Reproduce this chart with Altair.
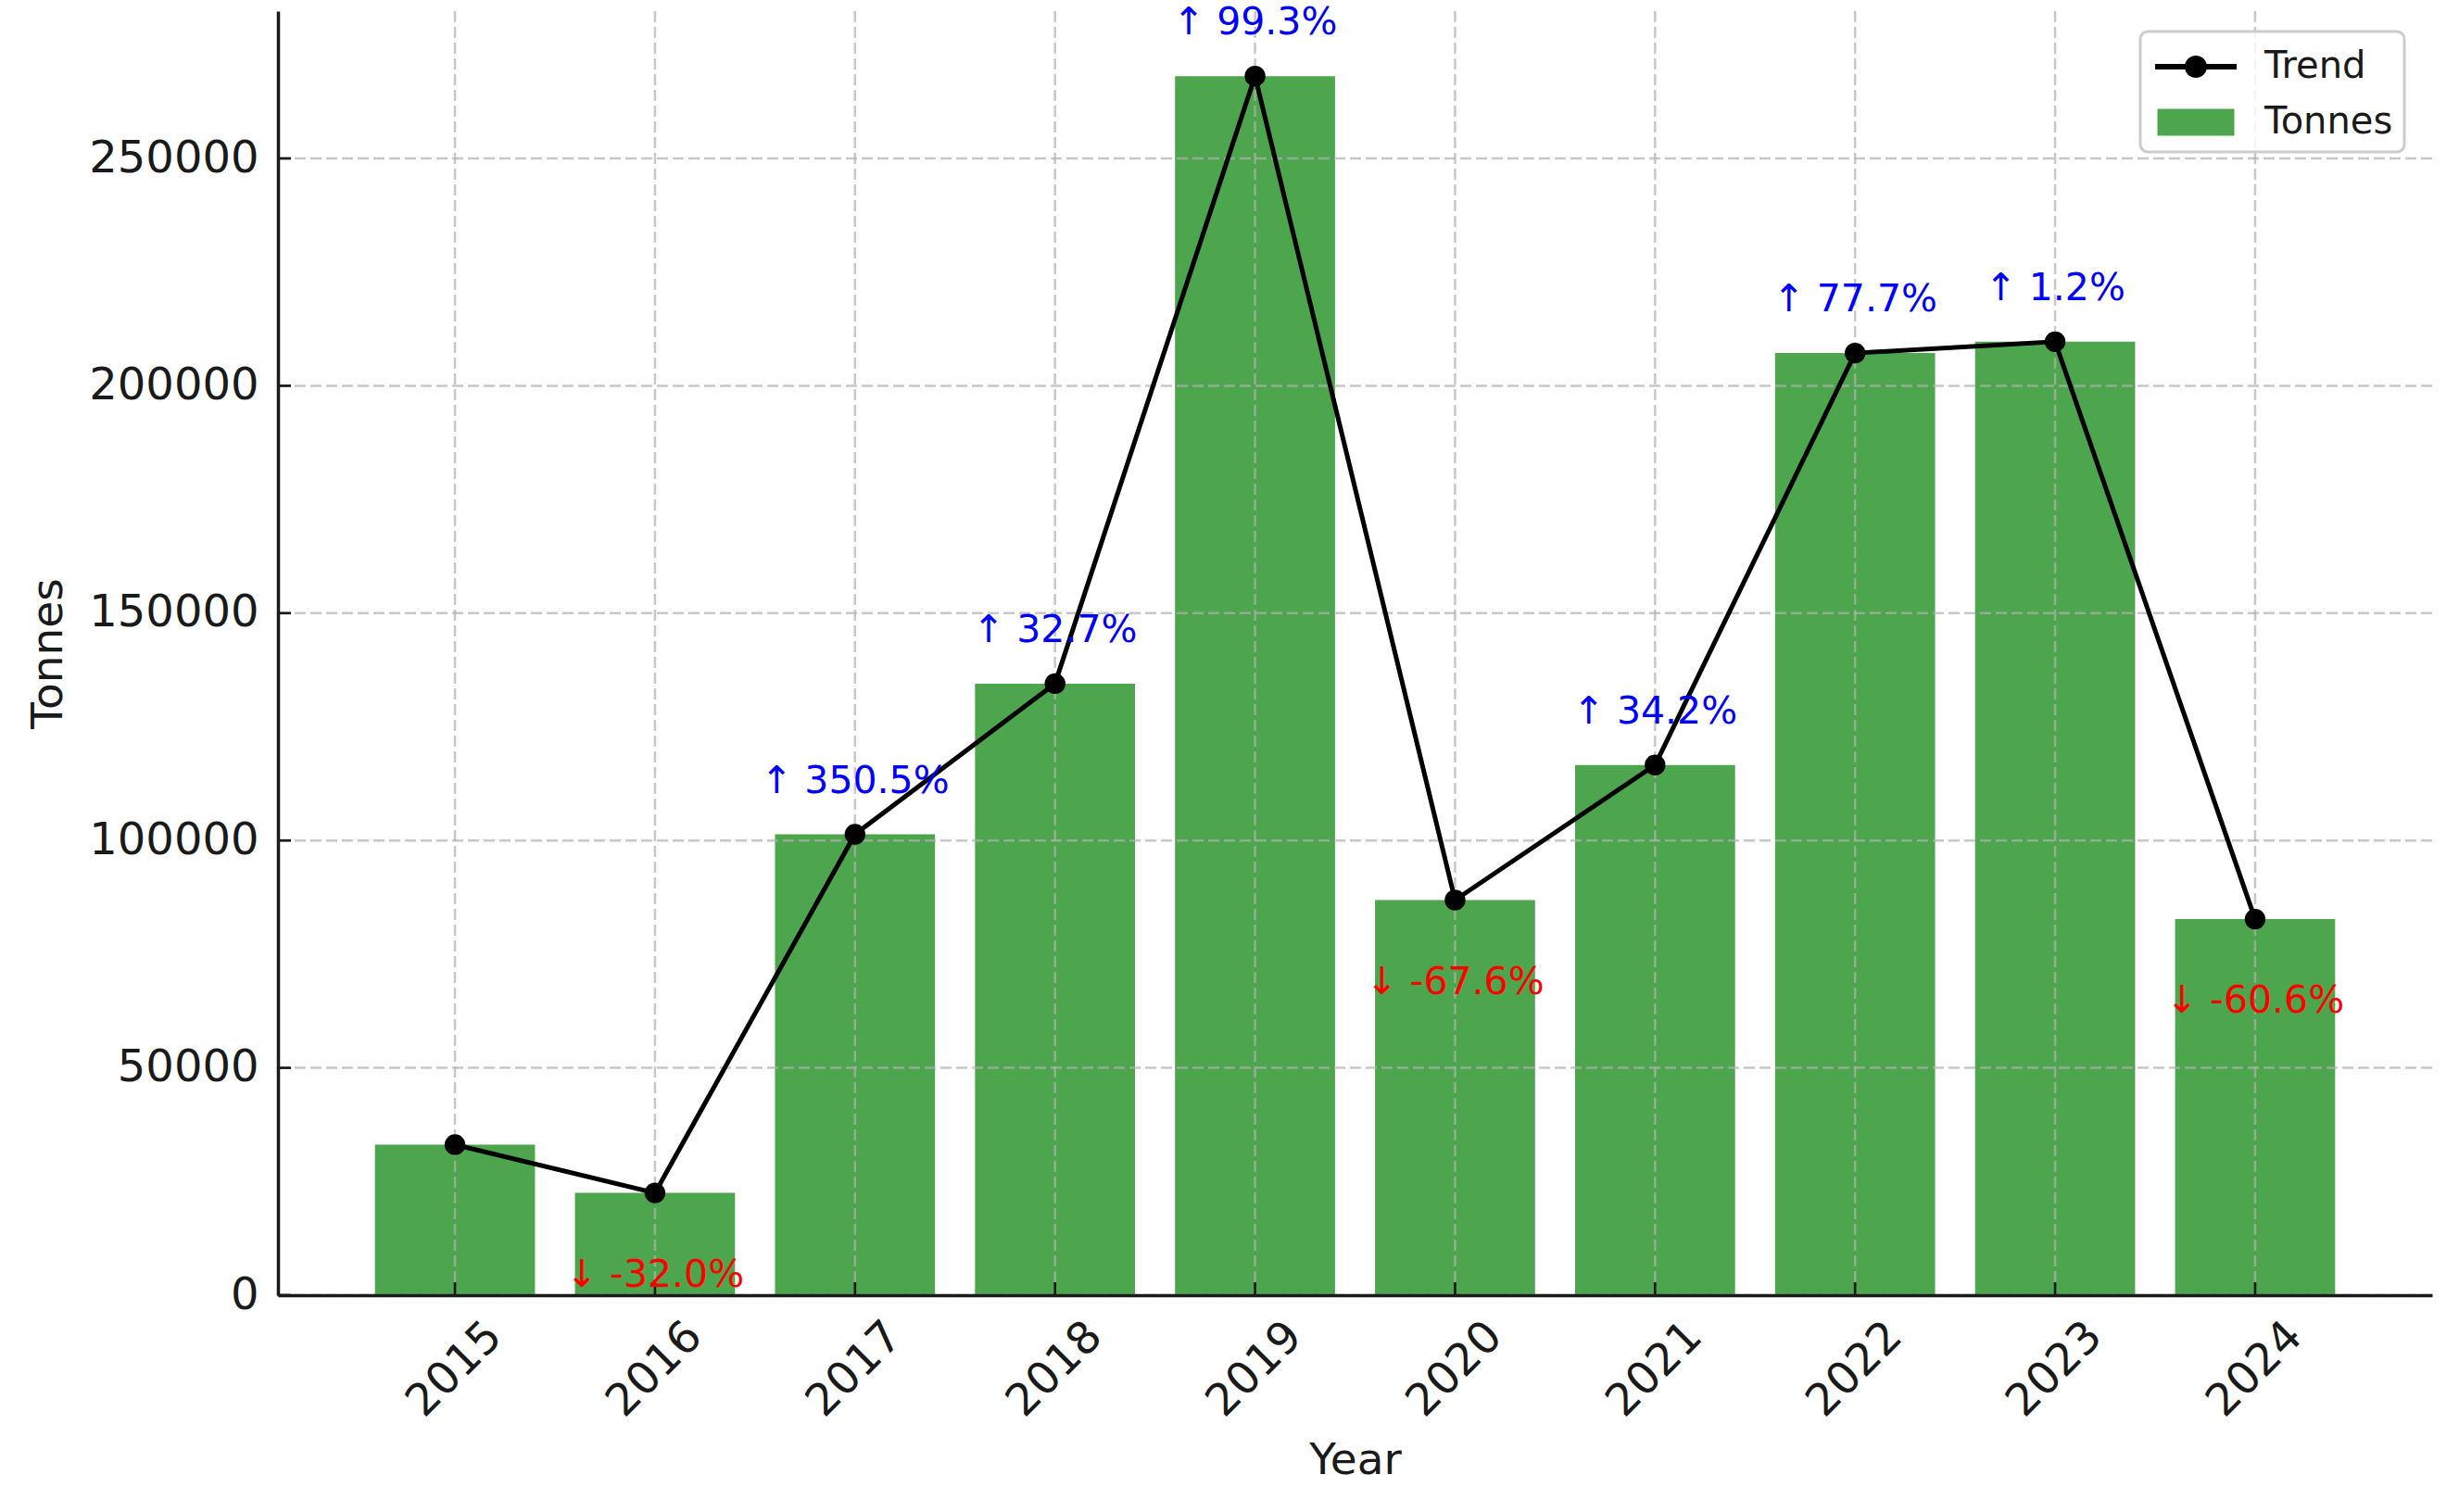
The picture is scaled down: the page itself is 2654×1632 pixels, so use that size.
import altair as alt
import pandas as pd

# ---- data ----
years = ["2015", "2016", "2017", "2018", "2019", "2020", "2021", "2022", "2023", "2024"]
tonnes = [33100, 22500, 101360, 134500, 268100, 86900, 116600, 207200, 209700, 82700]
change_labels = ["", "↓ -32.0%", "↑ 350.5%", "↑ 32.7%", "↑ 99.3%",
                 "↓ -67.6%", "↑ 34.2%", "↑ 77.7%", "↑ 1.2%", "↓ -60.6%"]
legend_names = ["Trend", "Tonnes"]
y_ticks = [0, 50000, 100000, 150000, 200000, 250000]

FONT = "DejaVu Sans"
GREEN = "#4DA64D"
W, H = 2325, 1386

df = pd.DataFrame({"Year": years, "Tonnes": tonnes, "Label": change_labels})
df["Dir"] = ["none" if s == "" else ("up" if s.startswith("↑") else "down") for s in change_labels]
grid_df = pd.DataFrame({"v": y_ticks})
legend_df = pd.DataFrame({"Series": legend_names})

x_enc = alt.X(
    "Year:O",
    scale=alt.Scale(paddingInner=0.2, paddingOuter=0.485),
    axis=alt.Axis(
        title="Year", labelAngle=-45, labelAlign="center", labelBaseline="middle",
        labelPadding=80, ticks=False, tickSize=0, grid=False, bandPosition=0.5,
        labelFontSize=48, titleFontSize=47, labelFont=FONT, titleFont=FONT,
        labelColor="#1a1a1a", titleColor="#1a1a1a", titleFontWeight="normal",
        domainColor="#1a1a1a", domainWidth=3.5, titlePadding=15, zindex=1,
        labelLimit=400,
    ),
)
y_scale = alt.Scale(domain=[0, 282400], nice=False, zero=True)
y_enc = alt.Y(
    "Tonnes:Q",
    scale=y_scale,
    axis=alt.Axis(
        title="Tonnes", values=y_ticks, format="d", ticks=False, tickSize=0,
        labelPadding=21, grid=False, labelFontSize=48, titleFontSize=47,
        labelFont=FONT, titleFont=FONT, labelColor="#1a1a1a", titleColor="#1a1a1a",
        titleFontWeight="normal", domainColor="#1a1a1a", domainWidth=3.5,
        titlePadding=24, zindex=1, labelLimit=400,
    ),
)

bars = alt.Chart(df).mark_bar(color=GREEN).encode(x=x_enc, y=y_enc)

grid_style = dict(color="#b0b0b0", opacity=0.7, strokeWidth=2.5, strokeDash=[12, 5])
xgrid = alt.Chart(df).mark_rule(**grid_style).encode(x=alt.X("Year:O"))
ygrid = alt.Chart(grid_df).mark_rule(**grid_style).encode(y=alt.Y("v:Q", scale=y_scale))

# inward tick marks (matplotlib style)
xticks = alt.Chart(df).mark_rule(color="#1a1a1a", strokeWidth=2.7).encode(
    x=alt.X("Year:O"), y=alt.value(H), y2=alt.value(H - 14))
yticks = alt.Chart(grid_df).mark_rule(color="#1a1a1a", strokeWidth=2.7).encode(
    y=alt.Y("v:Q", scale=y_scale), x=alt.value(0), x2=alt.value(14))

line = alt.Chart(df).mark_line(color="black", strokeWidth=5).encode(
    x="Year:O", y="Tonnes:Q")
points = alt.Chart(df).mark_point(filled=True, color="black", size=500, opacity=1).encode(
    x="Year:O", y="Tonnes:Q")

up_text = alt.Chart(df).transform_filter("datum.Dir == 'up'").mark_text(
    color="#0000ff", fontSize=41, font=FONT, dy=-57, baseline="middle", align="center"
).encode(x="Year:O", y="Tonnes:Q", text="Label:N")
down_text = alt.Chart(df).transform_filter("datum.Dir == 'down'").mark_text(
    color="#ff0000", fontSize=41, font=FONT, dy=89, baseline="middle", align="center"
).encode(x="Year:O", y="Tonnes:Q", text="Label:N")

trend_path = ("M-1.76,-0.12L1.76,-0.12L1.76,0.12L-1.76,0.12Z "
              "M-0.48,0A0.48,0.48 0 1,1 0.48,0A0.48,0.48 0 1,1 -0.48,0Z")
rect_path = "M-1.66,-0.58L1.66,-0.58L1.66,0.58L-1.66,0.58Z"

leg = alt.Legend(
    title=None, orient="none", legendX=2010, legendY=22, padding=12,
    symbolSize=2500, symbolOffset=22, labelOffset=48, rowPadding=14,
    labelFontSize=40, labelFont=FONT, labelColor="#1a1a1a", symbolOpacity=1,
    fillColor="rgba(255,255,255,0.8)", strokeColor="#cccccc",
    cornerRadius=8, labelLimit=400,
)
legend_layer = alt.Chart(legend_df).transform_filter("datum.Series == 'none'").mark_point(
    filled=True, opacity=0
).encode(
    color=alt.Color("Series:N", scale=alt.Scale(domain=legend_names, range=["black", GREEN]),
                    legend=leg),
    shape=alt.Shape("Series:N", scale=alt.Scale(domain=legend_names, range=[trend_path, rect_path]),
                    legend=leg),
)

chart = alt.layer(bars, xgrid, ygrid, xticks, yticks, line, points, up_text, down_text,
                  legend_layer).properties(
    width=W, height=H,
    padding={"left": 300, "top": 12, "right": 29, "bottom": 234},
    autosize=alt.AutoSizeParams(type="none"),
    background="white",
).configure_view(stroke=None).configure_legend(strokeWidth=3)

chart.save("out.html", embed_options={"renderer": "svg", "actions": False})
